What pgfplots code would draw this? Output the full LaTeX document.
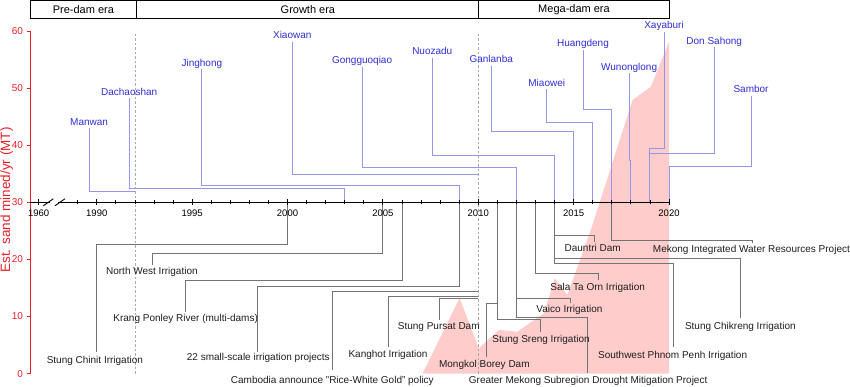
\documentclass[border=0pt]{standalone}
\usepackage{fontspec}
\setmainfont{Liberation Sans}
\usepackage{pgfplots}
\pgfplotsset{compat=1.18}
\definecolor{axred}{RGB}{232,32,40}
\definecolor{areapink}{RGB}{255,204,204}
\definecolor{blab}{RGB}{45,45,215}
\definecolor{bline}{RGB}{150,150,235}
\definecolor{glab}{RGB}{30,30,30}
\definecolor{gline}{RGB}{115,115,115}
\definecolor{dashg}{RGB}{170,170,170}
\begin{document}
\begin{tikzpicture}[
  blab/.style={text=blab, anchor=base, inner sep=0pt, font=\fontsize{10}{12}\selectfont},
  glab/.style={text=glab, anchor=base, inner sep=0pt, font=\fontsize{10}{12}\selectfont},
  eralab/.style={text=black, anchor=center, inner sep=0pt, font=\fontsize{11}{13}\selectfont},
]
\begin{axis}[name=main, scale only axis, width=639pt, height=342.6pt,
  xmin=1986.5, xmax=2020, ymin=0, ymax=60, clip=false,
  axis x line=none, axis y line=left,
  y axis line style={draw=axred, line width=0.8pt, -},
  ytick={0,10,...,60}, ytick style={draw=axred, line width=0.8pt},
  tick align=outside, major tick length=3.5pt,
  yticklabel style={text=axred, font=\fontsize{10}{12}\selectfont},
  /pgf/number format/assume math mode=true,
  ylabel={Est. sand mined/yr (MT)},
  ylabel style={text=axred, font=\fontsize{13.5}{15}\selectfont, at={(axis description cs:-0.0365,0.507)}, anchor=center},
  no markers,
]
% estimated sand mined per year (area)
\addplot[fill=areapink, draw=none] coordinates {(2007.08,0) (2009.02,13.24) (2010.03,4.43) (2011.08,7.64) (2012.05,7.34) (2013.44,10.56) (2014.01,16.69) (2014.67,13.77) (2015.90,25.15) (2018.09,47.92) (2019.05,50.25) (2020,58.13) (2020,0)} \closedcycle;

% era separators
\draw[dashg, dash pattern=on 2.5pt off 2pt, line width=0.6pt] (axis cs:1992,0) -- (axis cs:1992,59.6);
\draw[dashg, dash pattern=on 2.5pt off 2pt, line width=0.6pt] (axis cs:2010,0) -- (axis cs:2010,59.6);

% dams (blue)
\addplot[bline, line width=0.9pt] coordinates {(1989.60,42.96) (1989.60,31.98) (1992,31.98)};
\addplot[bline, line width=0.9pt] coordinates {(1991.71,48.21) (1991.71,32.40) (2003,32.40) (2003,30)};
\addplot[bline, line width=0.9pt] coordinates {(1995.51,53.29) (1995.51,33.03) (2009,33.03) (2009,30)};
\addplot[bline, line width=0.9pt] coordinates {(2000.27,58.13) (2000.27,34.90) (2010,34.90)};
\addplot[bline, line width=0.9pt] coordinates {(2003.91,53.75) (2003.91,36.06) (2012,36.06) (2012,30)};
\addplot[bline, line width=0.9pt] coordinates {(2007.59,55.32) (2007.59,38.16) (2014,38.16) (2014,30)};
\addplot[bline, line width=0.9pt] coordinates {(2010.68,53.92) (2010.68,42.49) (2015,42.49) (2015,30)};
\addplot[bline, line width=0.9pt] coordinates {(2013.59,49.79) (2013.59,44.01) (2016,44.01) (2016,30)};
\addplot[bline, line width=0.9pt] coordinates {(2015.54,56.67) (2015.54,46.29) (2017,46.29) (2017,30)};
\addplot[bline, line width=0.9pt] coordinates {(2017.94,52.59) (2017.94,37.29) (2018,37.29) (2018,30)};
\addplot[bline, line width=0.9pt] coordinates {(2019.74,59.88) (2019.74,39.46) (2019,39.46) (2019,30)};
\addplot[bline, line width=0.9pt] coordinates {(2022.37,57.14) (2022.37,38.63) (2019,38.63) (2019,30)};
\addplot[bline, line width=0.9pt] coordinates {(2024.30,48.67) (2024.30,36.24) (2020,36.24) (2020,30)};

% irrigation and policy (gray)
\addplot[gline, line width=0.9pt] coordinates {(1990.00,3.84) (1990.00,22.70) (2000,22.70) (2000,30)};
\addplot[gline, line width=0.9pt] coordinates {(1992.92,19.02) (1992.92,21.00) (2005,21.00) (2005,30)};
\addplot[gline, line width=0.9pt] coordinates {(1994.67,10.84) (1994.67,16.27) (2006,16.27) (2006,30)};
\addplot[gline, line width=0.9pt] coordinates {(1998.45,3.84) (1998.45,15.22) (2009,15.22) (2009,30)};
\addplot[gline, line width=0.9pt] coordinates {(2002.34,0.63) (2002.34,14.38) (2010,14.38)};
\addplot[gline, line width=0.9pt] coordinates {(2005.31,4.71) (2005.31,13.47) (2010,13.47)};
\addplot[gline, line width=0.9pt] coordinates {(2007.99,9.39) (2007.99,13.19) (2010,13.19)};
\addplot[gline, line width=0.9pt] coordinates {(2010.44,2.96) (2010.44,12.36) (2011,12.36) (2011,30)};
\addplot[gline, line width=0.9pt] coordinates {(2013.27,7.34) (2013.27,9.44) (2011,9.44) (2011,30)};
\addplot[gline, line width=0.9pt] coordinates {(2014.85,12.42) (2014.85,13.20) (2012,13.20) (2012,30)};
\addplot[gline, line width=0.9pt] coordinates {(2016.30,16.39) (2016.30,17.53) (2013,17.53) (2013,30)};
\addplot[gline, line width=0.9pt] coordinates {(2016.07,23.10) (2016.07,24.27) (2014,24.27) (2014,30)};
\addplot[gline, line width=0.9pt] coordinates {(2024.35,22.82) (2024.35,23.40) (2017,23.40) (2017,30)};
\addplot[gline, line width=0.9pt] coordinates {(2023.73,9.68) (2023.73,20.12) (2014,20.12) (2014,30)};
\addplot[gline, line width=0.9pt] coordinates {(2020.22,4.71) (2020.22,19.32) (2014,19.32) (2014,30)};
\addplot[gline, line width=0.9pt] coordinates {(2015.72,0.05) (2015.72,9.86) (2012,9.86) (2012,30)};

% blue labels
\node[blab] at (axis cs:1989.60,43.48) {Manwan};
\node[blab] at (axis cs:1991.70,48.74) {Dachaoshan};
\node[blab] at (axis cs:1995.51,53.82) {Jinghong};
\node[blab] at (axis cs:2000.25,58.65) {Xiaowan};
\node[blab] at (axis cs:2003.91,54.27) {Gongguoqiao};
\node[blab] at (axis cs:2007.59,55.85) {Nuozadu};
\node[blab] at (axis cs:2010.68,54.45) {Ganlanba};
\node[blab] at (axis cs:2013.59,50.32) {Miaowei};
\node[blab] at (axis cs:2015.49,57.20) {Huangdeng};
\node[blab] at (axis cs:2017.91,53.12) {Wunonglong};
\node[blab] at (axis cs:2019.74,60.40) {Xayaburi};
\node[blab] at (axis cs:2022.37,57.67) {Don Sahong};
\node[blab] at (axis cs:2024.30,49.19) {Sambor};

% gray labels
\node[glab] at (axis cs:1989.90,1.72) {Stung Chinit Irrigation};
\node[glab] at (axis cs:1992.89,17.30) {North West Irrigation};
\node[glab] at (axis cs:1994.66,9.19) {Krang Ponley River (multi-dams)};
\node[glab] at (axis cs:1998.47,2.29) {22 small-scale irrigation projects};
\node[glab] at (axis cs:2002.35,-1.79) {Cambodia announce "Rice-White Gold" policy};
\node[glab] at (axis cs:2005.27,2.89) {Kanghot Irrigation};
\node[glab] at (axis cs:2007.93,7.67) {Stung Pursat Dam};
\node[glab] at (axis cs:2010.32,1.02) {Mongkol Borey Dam};
\node[glab] at (axis cs:2013.29,5.52) {Stung Sreng Irrigation};
\node[glab] at (axis cs:2014.78,10.65) {Vaico Irrigation};
\node[glab] at (axis cs:2016.26,14.55) {Sala Ta Orn Irrigation};
\node[glab] at (axis cs:2016.00,21.38) {Dauntri Dam};
\node[glab] at (axis cs:2024.32,21.16) {Mekong Integrated Water Resources Project};
\node[glab] at (axis cs:2023.74,7.72) {Stung Chikreng Irrigation};
\node[glab] at (axis cs:2020.19,2.71) {Southwest Phnom Penh Irrigation};
\node[glab] at (axis cs:2015.76,-1.79) {Greater Mekong Subregion Drought Mitigation Project};

% era boxes
\draw[black, line width=0.8pt] (axis cs:1986.5,62.22) rectangle (axis cs:2020,65.42);
\draw[black, line width=0.8pt] (axis cs:1992.1,62.22) -- (axis cs:1992.1,65.42);
\draw[black, line width=0.8pt] (axis cs:2010.03,62.22) -- (axis cs:2010.03,65.42);
\node[eralab] at (axis cs:1989.3,63.82) {Pre-dam era};
\node[eralab] at (axis cs:2001.07,63.82) {Growth era};
\node[eralab] at (axis cs:2015.02,63.82) {Mega-dam era};
\end{axis}

\begin{axis}[scale only axis, width=639pt, height=171.3pt,
  at={(main.west)}, anchor=south west,
  xmin=1986.5, xmax=2020, ymin=30, ymax=60,
  axis x line=bottom, axis y line=none,
  x axis line style={-, line width=0.9pt},
  xtick={1986.95,1990,1995,2000,2005,2010,2015,2020},
  xticklabels={1960,1990,1995,2000,2005,2010,2015,2020},
  minor xtick={1989,1991,1992,1993,1994,1996,1997,1998,1999,2001,2002,2003,2004,2006,2007,2008,2009,2011,2012,2013,2014,2016,2017,2018,2019},
  tick align=center, major tick length=6pt, minor tick length=4pt,
  xtick style={black, line width=0.8pt},
  minor tick style={black, line width=0.8pt},
  xticklabel style={font=\fontsize{9.5}{11}\selectfont, yshift=-1pt},
  /pgf/number format/assume math mode=true,
]
\coordinate (b1) at (axis cs:1987.46,30);
\coordinate (b2) at (axis cs:1988.07,30);
\end{axis}
\fill[white] ([xshift=1.8pt,yshift=-1.6pt]b1) rectangle ([xshift=-2pt,yshift=1.6pt]b2);
\draw[black, line width=0.9pt] ([shift={(-5pt,-3.5pt)}]b1) -- ([shift={(5pt,3.5pt)}]b1);
\draw[black, line width=0.9pt] ([shift={(-5pt,-3.5pt)}]b2) -- ([shift={(5pt,3.5pt)}]b2);

\pgfresetboundingbox
\path[use as bounding box] ([shift={(-30pt,-12.4pt)}]main.south west) rectangle ([shift={(820pt,373.6pt)}]main.south west);
\end{tikzpicture}
\end{document}
